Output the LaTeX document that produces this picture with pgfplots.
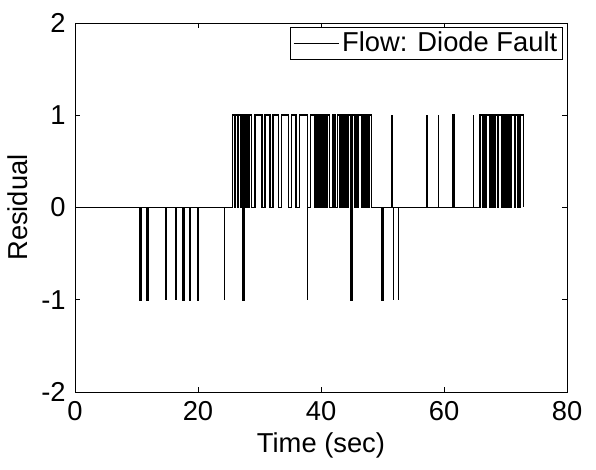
\documentclass[border=0pt]{standalone}
\usepackage{pgfplots}
\pgfplotsset{compat=1.18}
\usepackage{fontspec}
\setmainfont{Liberation Sans}
\begin{document}
\fontsize{20.5}{24}\selectfont
\begin{tikzpicture}
\begin{axis}[
  scale only axis,
  width=369pt, height=276.75pt,
  xmin=0, xmax=80, ymin=-2, ymax=2,
  xtick={0,20,40,60,80}, ytick={-2,-1,0,1,2},
  tick align=inside, major tick length=4pt,
  tick style={black, line width=0.6pt},
  axis line style={line width=0.7pt},
  /pgf/number format/assume math mode=true,
  ticklabel style={font=\fontsize{20.5}{24}\selectfont},
  label style={font=\fontsize{20.5}{24}\selectfont},
  xlabel={Time (sec)}, ylabel={Residual},
  xlabel style={yshift=5pt},
  ylabel style={yshift=-4pt},
  legend style={at={(1,1)}, anchor=north east, xshift=-3pt, yshift=-3pt,
    draw=black, line width=0.6pt, font=\fontsize{20.5}{24}\selectfont,
    inner xsep=2pt, inner ysep=1pt},
  legend cell align=left,
  legend image code/.code={\draw[black, line width=0.6pt] (0pt,0pt) -- (34pt,0pt);},
]
\addplot[black, line width=1.25pt, forget plot] coordinates {
(0,1)(0,0)
(10.5,0)(10.5,-1)(10.7,-1)(10.7,0)
(11.7,0)(11.7,-1)(11.9,-1)(11.9,0)
(14.8,0)(14.8,-1)(14.8,0)
(16.4,0)(16.4,-1)(16.4,0)
(17.6,0)(17.6,-1)(17.8,-1)(17.8,0)
(18.6,0)(18.6,-1)(18.8,-1)(18.8,0)
(19.9,0)(19.9,-1)(20.1,-1)(20.1,0)
(24.3,0)(24.3,-1)(24.3,0)
(25.6,0)(25.6,1)
(25.95,1)(25.95,0)(26.05,0)(26.05,1)
(26.5,1)(26.5,0)(26.6,0)(26.6,1)
(26.9,1)(26.9,0)(27.0,0)(27.0,1)
(27.3,1)(27.3,-1)(27.5,-1)(27.5,1)
(27.6,1)(27.6,0)(27.7,0)(27.7,1)
(27.8,1)(27.8,0)(27.9,0)(27.9,1)
(28.0,1)(28.0,0)(28.1,0)(28.1,1)
(28.2,1)(28.2,0)(28.3,0)(28.3,1)
(28.7,1)(28.7,0)(29.3,0)(29.3,1)
(30.4,1)(30.4,0)(30.9,0)(30.9,1)
(31.7,1)(31.7,0)(32.2,0)(32.2,1)
(33.1,1)(33.1,0)(33.6,0)(33.6,1)
(34.7,1)(34.7,0)(35.2,0)(35.2,1)
(35.9,1)(35.9,0)(36.5,0)(36.5,1)
(37.8,1)(37.8,-1)(37.8,0)(38.3,0)(38.3,1)
(39.0,1)(39.0,0)(39.1,0)(39.1,1)
(39.2,1)(39.2,0)(39.3,0)(39.3,1)
(39.4,1)(39.4,0)(39.5,0)(39.5,1)
(39.6,1)(39.6,0)(39.7,0)(39.7,1)
(39.8,1)(39.8,0)(39.9,0)(39.9,1)
(40.0,1)(40.0,0)(40.1,0)(40.1,1)
(40.3,1)(40.3,0)(40.55,0)(40.55,1)
(40.7,1)(40.7,0)(40.8,0)(40.8,1)
(40.9,1)(40.9,0)(41.0,0)(41.0,1)
(41.4,1)(41.4,0)(41.9,0)(41.9,1)
(42.05,1)(42.05,0)(42.15,0)(42.15,1)
(42.3,1)(42.3,0)(42.7,0)(42.7,1)
(43.0,1)(43.0,0)(43.1,0)(43.1,1)
(43.3,1)(43.3,0)(43.4,0)(43.4,1)
(43.6,1)(43.6,0)(43.7,0)(43.7,1)
(44.0,1)(44.0,0)(44.1,0)(44.1,1)
(44.25,1)(44.25,0)(44.35,0)(44.35,1)
(44.9,1)(44.9,-1)(45.1,-1)(45.1,1)
(45.5,1)(45.5,0)(45.6,0)(45.6,1)
(45.7,1)(45.7,0)(45.8,0)(45.8,1)
(45.9,1)(45.9,0)(46.0,0)(46.0,1)
(46.6,1)(46.6,0)(46.7,0)(46.7,1)
(46.8,1)(46.8,0)(46.9,0)(46.9,1)
(47.0,1)(47.0,0)(47.1,0)(47.1,1)
(47.5,1)(47.5,0)(47.6,0)(47.6,1)
(47.7,1)(47.7,0)(47.8,0)(47.8,1)
(48.2,1)(48.2,0)
(49.85,0)(49.85,-1)(50.1,-1)(50.1,0)
(51.5,0)(51.5,1)(51.5,0)
(51.8,0)(51.8,-1)(51.8,0)
(52.6,0)(52.6,-1)(52.6,0)
(57.2,0)(57.2,1)(57.2,0)
(59.1,0)(59.1,1)(59.1,0)
(61.5,0)(61.5,1)(61.7,1)(61.7,0)
(64.8,0)(64.8,1)(64.8,0)
(65.85,0)(65.85,1)
(66.3,1)(66.3,0)(66.4,0)(66.4,1)
(66.5,1)(66.5,0)(66.6,0)(66.6,1)
(66.75,1)(66.75,0)(66.85,0)(66.85,1)
(67.4,1)(67.4,0)(67.5,0)(67.5,1)
(67.6,1)(67.6,0)(67.7,0)(67.7,1)
(67.8,1)(67.8,0)(67.9,0)(67.9,1)
(68.0,1)(68.0,0)(68.1,0)(68.1,1)
(68.2,1)(68.2,0)(68.3,0)(68.3,1)
(68.8,1)(68.8,0)(68.85,0)(68.85,1)
(69.4,1)(69.4,0)(69.45,0)(69.45,1)
(69.8,1)(69.8,0)(69.9,0)(69.9,1)
(70.0,1)(70.0,0)(70.1,0)(70.1,1)
(70.2,1)(70.2,0)(70.3,0)(70.3,1)
(70.4,1)(70.4,0)(70.5,0)(70.5,1)
(70.6,1)(70.6,0)(70.7,0)(70.7,1)
(70.8,1)(70.8,0)(70.9,0)(70.9,1)
(71.5,1)(71.5,0)(71.55,0)(71.55,1)
(72.0,1)(72.0,0)(72.05,0)(72.05,1)
(72.4,1)(72.4,0)(72.45,0)(72.45,1)
(72.9,1)(72.9,0)
};
\addlegendimage{black}
\addlegendentry{Flow: Diode Fault}
\end{axis}
\pgfresetboundingbox
\path ([shift={(-56.25pt,-57.75pt)}]current axis.south west) rectangle ([shift={(21.75pt,17.25pt)}]current axis.north east);
\end{tikzpicture}
\end{document}
